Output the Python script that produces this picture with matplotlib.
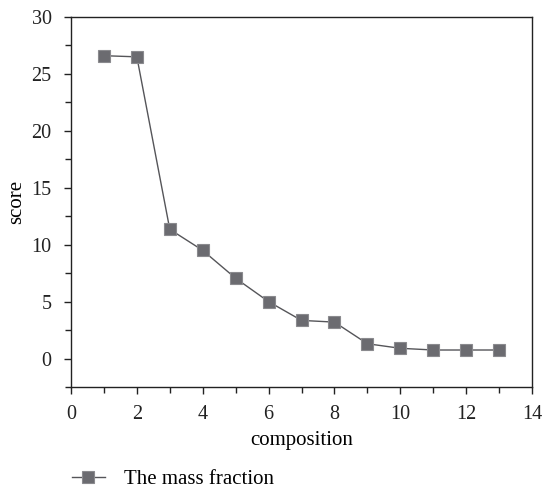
import matplotlib
matplotlib.use("Agg")
import matplotlib.pyplot as plt
from matplotlib.ticker import MultipleLocator

composition = [1, 2, 3, 4, 5, 6, 7, 8, 9, 10, 11, 12, 13]
score = [26.6, 26.5, 11.35, 9.5, 7.05, 5.0, 3.35, 3.2, 1.3, 0.9, 0.75, 0.75, 0.75]
series_label = "The mass fraction"

plt.rcParams['font.family'] = ['Liberation Serif', 'DejaVu Serif']

fig = plt.figure(figsize=(5.44, 4.91), dpi=100)
ax = fig.add_axes([0.1305, 0.2118, 0.978 - 0.1305, 0.9654 - 0.2118])

ax.plot(composition, score, color='#555559', lw=1.0, marker='s', ms=8.8,
        markerfacecolor='#6b6b70', markeredgecolor='#8a8a8e', markeredgewidth=0.8,
        label=series_label)

ax.set_xlim(0, 14)
ax.set_ylim(-2.5, 30)
ax.xaxis.set_major_locator(MultipleLocator(2))
ax.xaxis.set_minor_locator(MultipleLocator(1))
ax.yaxis.set_major_locator(MultipleLocator(5))
ax.yaxis.set_minor_locator(MultipleLocator(2.5))
ax.tick_params(which='both', direction='out', top=False, right=False, labelsize=14.5, colors='#222222')
ax.tick_params(which='major', length=5, width=1)
ax.tick_params(which='minor', length=4, width=1)
ax.tick_params(axis='x', which='major', pad=8)
ax.tick_params(axis='y', which='major', pad=9)
for s in ax.spines.values():
    s.set_linewidth(1.0)
    s.set_color('#222222')

ax.set_xlabel('composition', fontsize=15, labelpad=5)
ax.set_ylabel('score', fontsize=15, labelpad=3.5)

fig.legend(loc='center left', bbox_to_anchor=(0.132, 0.024), frameon=False,
           fontsize=15, handlelength=1.6, handletextpad=0.9,
           borderpad=0, borderaxespad=0)

fig.savefig('out.png', dpi=100)
